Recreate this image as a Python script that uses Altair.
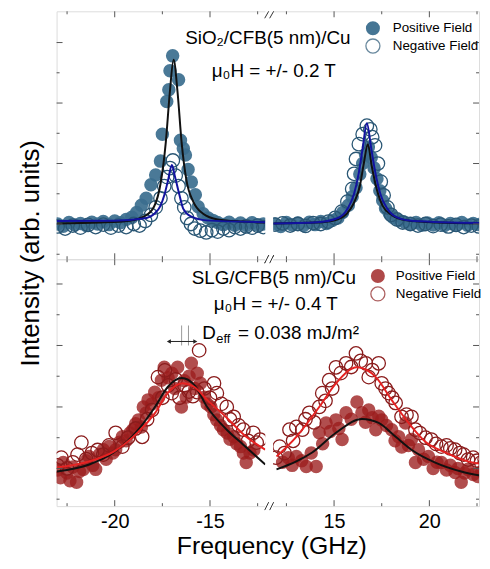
import altair as alt
import pandas as pd

FONT = "Liberation Sans"

# ---------------- broken x axis definition (GHz) ----------------
BREAK_LEFT = -12.1      # end of the negative-frequency segment
BREAK_RIGHT = 11.8      # start of the positive-frequency segment
GAP = 0.41              # gap between segments, in axis units
SHIFT = BREAK_RIGHT - (BREAK_LEFT + GAP)
PXU = 433 / 22.53       # pixels per GHz
X_MIN = -23.05
W = 426
X_MAX = X_MIN + W / PXU
H_TOP = 250
H_BOT = 249

x_major_ghz = [-20, -15, 15, 20]
x_minor_ghz = [-22.5, -17.5, -12.5, 12.5, 17.5, 22.5]
y_major = [1, 3, 5, 7]
y_minor = [0, 2, 4, 6]

# ---------------- top panel: SiO2/CFB(5 nm)/Cu ----------------
top_pos_f = [-23.0, -22.7, -22.4, -22.1, -21.8, -21.5, -21.2, -20.9, -20.6, -20.3, -20.0, -19.7, -19.4, -19.1,
             -18.85, -18.6, -18.35, -18.1, -17.85, -17.6, -17.5, -17.27, -17.16, -17.1, -16.96, -16.65, -16.55,
             -16.4, -16.29, -16.15, -15.98, -15.77, -15.62, -15.36, -15.1, -14.85, -14.6, -14.3, -14.0, -13.7,
             -13.4, -13.1, -12.8, -12.5, -12.2,
             11.9, 12.2, 12.5, 12.8, 13.1, 13.4, 13.7, 14.0, 14.3, 14.6, 14.9, 15.2, 15.45, 15.75, 15.95, 16.15,
             16.35, 16.5, 16.65, 16.8, 16.95, 17.1, 17.25, 17.4, 17.55, 17.7, 17.9, 18.1, 18.4, 18.7, 19.0, 19.3,
             19.6, 19.9, 20.2, 20.5, 20.8, 21.1, 21.4, 21.7, 22.0, 22.3, 22.6, 22.9]
top_pos_v = [1.00, 0.93, 1.05, 0.97, 1.02, 0.95, 1.06, 1.00, 1.08, 0.98, 1.10, 1.04, 1.15, 1.22,
             1.38, 1.62, 1.85, 2.30, 2.62, 3.08, 3.97, 5.05, 5.44, 6.07, 6.56, 5.77, 3.77,
             3.50, 3.28, 2.80, 2.39, 1.97, 1.57, 1.34, 1.20, 1.12, 1.05, 0.98, 1.06, 0.96,
             1.03, 0.95, 1.04, 0.97, 1.00,
             1.00, 0.92, 1.05, 0.97, 1.03, 0.95, 1.06, 0.98, 1.08, 1.02, 1.12, 1.20, 1.38, 1.62, 1.90, 2.20,
             2.65, 3.00, 3.30, 3.55, 3.20, 2.85, 2.50, 2.10, 1.78, 1.52, 1.35, 1.22, 1.12, 1.06, 1.00, 1.05,
             0.96, 1.03, 0.97, 1.04, 0.95, 1.02, 0.97, 1.05, 0.96, 1.02, 0.98, 1.00]
top_neg_f = [-23.0, -22.6, -22.2, -21.8, -21.4, -21.0, -20.6, -20.2, -19.8, -19.4, -19.0, -18.7, -18.4, -18.1,
             -17.85, -17.6, -17.4, -17.25, -17.1, -16.95, -16.8, -16.65, -16.5, -16.35, -16.2, -16.0, -15.8,
             -15.5, -15.2, -14.9, -14.6, -14.3, -14.0, -13.7, -13.4, -13.1, -12.8, -12.5, -12.2,
             11.9, 12.3, 12.7, 13.1, 13.5, 13.9, 14.3, 14.7, 15.05, 15.4, 15.7, 15.95, 16.05, 16.15, 16.3,
             16.5, 16.72, 16.9, 17.0, 17.15, 17.3, 17.45, 17.6, 17.8, 18.0, 18.3, 18.6, 19.0, 19.4, 19.8,
             20.2, 20.6, 21.0, 21.4, 21.8, 22.2, 22.6, 22.95]
top_neg_v = [0.92, 0.85, 0.95, 0.88, 0.97, 0.90, 0.98, 0.88, 0.95, 0.90, 1.00, 0.95, 1.10, 1.30,
             1.55, 1.85, 2.25, 2.55, 2.85, 3.10, 2.60, 2.25, 1.85, 1.55, 1.20, 1.00, 0.85,
             0.78, 0.72, 0.80, 0.75, 0.85, 0.80, 0.90, 0.85, 0.92, 0.88, 0.95, 0.90,
             0.98, 1.02, 0.95, 1.00, 0.94, 1.03, 1.00, 1.08, 1.20, 1.41, 1.74, 2.16, 2.66, 3.15, 3.64,
             3.97, 4.25, 4.13, 3.87, 3.60, 3.00, 2.40, 1.95, 1.55, 1.30, 1.15, 1.05, 1.00, 0.95, 1.00,
             0.93, 0.98, 0.92, 0.97, 0.90, 0.95, 0.92, 0.96]
top_fitp_f = [-23.04, -20.77, -19.23, -18.45, -17.94, -17.58, -17.32, -17.11, -16.91, -16.70, -16.49, -16.24,
              -15.88, -15.36, -14.59, -13.30, -12.11,
              11.82, 14.11, 15.16, 15.68, 16.04, 16.35, 16.56, 16.77, 16.98, 17.24, 17.55, 18.02, 18.8, 20.36, 22.97]
top_fitp_v = [1.02, 1.05, 1.11, 1.25, 1.57, 2.39, 3.70, 5.34, 6.43, 5.34, 3.70, 2.46,
              1.74, 1.34, 1.15, 1.08, 1.05,
              1.02, 1.05, 1.15, 1.35, 1.70, 2.25, 3.00, 3.64, 2.90, 2.15, 1.60, 1.30, 1.12, 1.05, 1.02]
top_fitn_f = [-23.04, -20.0, -18.5, -17.9, -17.6, -17.4, -17.2, -17.0, -16.85, -16.6, -16.4, -16.0, -15.2, -12.1,
              11.82, 14.1, 15.2, 15.7, 16.05, 16.3, 16.5, 16.72, 16.95, 17.15, 17.45, 17.8, 18.3, 19.2, 22.97]
top_fitn_v = [1.10, 1.11, 1.18, 1.35, 1.60, 1.95, 2.45, 2.95, 2.60, 1.95, 1.50, 1.25, 1.12, 1.06,
              1.02, 1.06, 1.20, 1.50, 2.00, 2.70, 3.50, 4.33, 3.50, 2.75, 1.95, 1.50, 1.22, 1.10, 1.03]

# ---------------- bottom panel: SLG/CFB(5 nm)/Cu ----------------
bot_pos_f = [-23.0, -22.85, -22.7, -22.5, -22.35, -22.2, -22.0, -21.85, -21.65, -21.5, -21.35, -21.15, -21.0,
             -20.8, -20.6, -20.45, -20.3, -20.1, -19.95, -19.75, -19.6, -19.4, -19.2, -19.05, -18.9, -18.75,
             -18.6, -18.5, -18.35, -18.25, -18.05, -17.9, -17.7, -17.55, -17.4, -17.2, -17.0, -16.85, -16.7,
             -16.5, -16.35, -16.25, -16.1, -15.98, -15.8, -15.67, -15.5, -15.3, -15.15, -14.95, -14.8, -14.65,
             -14.45, -14.3, -14.1, -13.95, -13.75, -13.6, -13.4, -13.25, -13.1, -12.9, -12.7,
             12.3, 12.6, 12.8, 13.02, 13.3, 13.54, 13.8, 14.06, 14.22, 14.4, 14.58, 14.8, 15.1, 15.25, 15.42,
             15.63, 15.9, 16.2, 16.46, 16.65, 16.82, 17.0, 17.19, 17.35, 17.5, 17.75, 18.02, 18.2, 18.39, 18.55,
             18.75, 18.9, 19.06, 19.27, 19.43, 19.7, 19.95, 20.2, 20.4, 20.63, 20.9, 21.1, 21.35, 21.5, 21.67,
             21.85, 22.03, 22.3, 22.55, 22.75, 22.92]
bot_pos_v = [0.95, 0.70, 1.19, 0.85, 0.60, 1.05, 0.55, 0.90, 0.97, 1.25, 1.39, 1.10, 0.97,
             1.45, 1.61, 1.30, 1.71, 1.50, 1.61, 1.85, 2.03, 1.90, 2.15, 2.26, 2.45, 2.58,
             2.35, 3.00, 2.80, 3.23, 3.10, 3.48, 3.30, 3.87, 4.29, 3.95, 4.10, 3.60, 4.29,
             3.00, 3.85, 3.32, 4.00, 4.42, 3.60, 4.10, 3.77, 3.32, 3.10, 3.00, 2.75, 2.58,
             2.40, 2.26, 2.15, 1.95, 2.03, 1.80, 1.71, 1.50, 1.19, 1.50, 1.60,
             1.20, 1.35, 1.10, 1.39, 1.25, 1.06, 1.50, 1.06, 2.16, 1.80, 2.48, 2.20, 2.58, 2.30, 1.94,
             2.81, 2.60, 3.16, 2.81, 2.50, 2.90, 2.65, 2.26, 2.70, 2.58, 2.40, 2.26, 1.90, 2.03, 1.70,
             2.48, 1.75, 1.94, 1.19, 1.61, 1.30, 1.39, 1.00, 1.20, 1.19, 0.95, 1.10, 0.87, 1.00, 0.55,
             0.85, 0.97, 0.80, 0.74, 0.90, 1.06]
bot_neg_f = [-23.0, -22.8, -22.5, -22.2, -21.95, -21.75, -21.5, -21.2, -20.9, -20.6, -20.3, -19.95, -19.6,
             -19.3, -18.9, -18.56, -18.3, -18.04, -17.73, -17.5, -17.37, -17.2, -17.01, -16.8, -16.6, -16.34,
             -16.1, -15.9, -15.67, -15.57, -15.3, -15.0, -14.79, -14.64, -14.4, -14.12, -13.95, -13.76, -13.5,
             -13.25, -13.0, -12.73, -12.55, -12.37,
             11.95, 12.14, 12.4, 12.66, 12.85, 13.02, 13.33, 13.5, 13.7, 13.95, 14.22, 14.38, 14.55, 14.74,
             14.9, 15.1, 15.35, 15.63, 15.9, 16.15, 16.4, 16.67, 16.82, 17.0, 17.34, 17.5, 17.7, 17.86, 18.05,
             18.23, 18.54, 18.8, 19.06, 19.27, 19.5, 19.8, 20.1, 20.35, 20.63, 20.9, 21.1, 21.35, 21.6, 21.8,
             22.03, 22.3, 22.5, 22.71, 22.9]
bot_neg_v = [1.10, 1.35, 1.00, 1.20, 1.45, 1.84, 1.30, 1.50, 1.60, 1.45, 1.75, 2.16, 1.71,
             2.00, 2.30, 2.03, 2.60, 2.90, 3.97, 3.30, 4.19, 3.70, 3.45, 3.90, 3.30, 3.71,
             3.50, 3.35, 3.48, 4.84, 3.60, 3.30, 3.77, 3.45, 3.10, 3.00, 2.60, 2.68, 2.40,
             2.26, 1.90, 2.16, 1.84, 1.94,
             1.35, 1.71, 1.50, 2.26, 1.90, 2.35, 2.26, 2.60, 2.81, 2.50, 3.00, 3.45, 3.20, 3.87,
             3.60, 4.29, 4.10, 4.42, 4.30, 4.74, 4.50, 4.42, 3.97, 4.20, 4.42, 3.77, 3.60, 3.45, 3.30,
             3.13, 2.68, 2.75, 2.68, 2.26, 2.15, 2.00, 1.94, 1.80, 1.71, 1.75, 1.65, 1.61, 1.50, 1.45,
             1.29, 1.35, 1.25, 1.19, 1.30]
bot_fitp_f = [-23.04, -21.34, -20.05, -18.76, -17.89, -17.22, -16.49, -15.82, -15.15, -14.12, -13.25, -12.1,
              11.98, 13.02, 13.85, 15.10, 16.46, 17.34, 18.23, 19.06, 20.31, 21.67, 22.92]
bot_fitp_v = [0.90, 1.13, 1.52, 2.26, 3.00, 3.65, 3.94, 3.71, 3.00, 2.26, 1.77, 1.13,
              0.97, 1.23, 1.52, 2.16, 2.61, 2.48, 2.03, 1.61, 1.19, 0.90, 0.74]
bot_fitn_f = [-23.04, -21.34, -20.05, -18.76, -17.89, -17.22, -16.44, -15.82, -15.15, -14.12, -13.1, -12.1,
              11.98, 13.02, 14.22, 15.10, 16.20, 17.19, 18.02, 18.91, 19.79, 20.83, 22.03, 22.92]
bot_fitn_v = [1.03, 1.23, 1.55, 2.19, 2.80, 3.45, 3.77, 3.65, 3.23, 2.65, 2.03, 1.61,
              1.39, 2.03, 3.00, 3.77, 4.29, 3.97, 3.23, 2.48, 1.87, 1.52, 1.23, 1.13]

# D_eff shift marker (GHz, intensity units of bottom panel)
deff_lines_f = [-16.49, -16.13]
deff_lines_lo = [5.0, 5.0]
deff_lines_hi = [5.65, 5.65]
deff_arrow_f = [-17.16, -15.77]
deff_arrow_v = [5.13, 5.13]

legend_labels = ["Positive Field", "Negative Field"]

TOP_POS, TOP_NEG, BLUE_FIT = "#3b6e8e", "#2a5775", "#1212a0"
BOT_POS, BOT_NEG, RED_FIT = "#9b1c1c", "#8a1c1c", "#e62222"
BLACK = "#111111"
AXC = "#555555"
MSIZE = 185

XP = f"datum.f < 0 ? datum.f : datum.f - {SHIFT}"
_v = f"(datum.value > {BREAK_LEFT + GAP / 2} ? round(datum.value + {SHIFT}) : round(datum.value))"
label_expr = f"{_v} + ''"
x_label_vals = [v if v < 0 else round(v - SHIFT, 4) for v in x_major_ghz]
GAP_PX = (BREAK_LEFT + GAP / 2 - X_MIN) * PXU


def df(f, v):
    return pd.DataFrame({"f": f, "v": v})


def text_layer(txt, x, y, size, align="left", angle=0, color="black"):
    kw = dict(text=txt, font=FONT, fontSize=size, align=align, baseline="middle", color=color)
    if angle:
        kw["angle"] = angle
    return alt.Chart(pd.DataFrame({"t": [txt]})).mark_text(**kw).encode(
        x=alt.value(x), y=alt.value(y))


def tick_layers(xs, ys, H):
    """Inward ticks on all four sides, drawn through the shared scales."""
    out = []
    for vals, ln in ((x_major_ghz, 6), (x_minor_ghz, 3)):
        d = pd.DataFrame({"f": vals})
        for y0, y1 in ((0, ln), (H - ln, H)):
            out.append(alt.Chart(d).transform_calculate(xp=XP).transform_filter(
                f"datum.xp <= {X_MAX}").mark_rule(color=AXC, strokeWidth=1).encode(
                x=alt.X("xp:Q", scale=xs, axis=None), y=alt.value(y0), y2=alt.value(y1)))
    for vals, ln in ((y_major, 6), (y_minor, 3)):
        d = pd.DataFrame({"t": vals})
        for x0, x1 in ((0, ln), (W - ln, W)):
            out.append(alt.Chart(d).mark_rule(color=AXC, strokeWidth=1).encode(
                y=alt.Y("t:Q", scale=ys, axis=None), x=alt.value(x0), x2=alt.value(x1)))
    return out


def break_marks(H, top_edge):
    layers = []
    spans = [(0, 7) if top_edge else (-4, 4), (H - 4, H + 4)]
    for y0, y1 in spans:
        for dx in (-2.5, 2.5):
            layers.append(alt.Chart(pd.DataFrame({"t": [0]})).mark_rule(color="#333", strokeWidth=1).encode(
                x=alt.value(GAP_PX + dx - 2), x2=alt.value(GAP_PX + dx + 2),
                y=alt.value(y1), y2=alt.value(y0)))
    return layers


def panel(pos, neg, fitp, fitn, ydom, H, show_labels, pos_color, pos_opacity, neg_color, fitn_color, extras,
          top_edge):
    xs = alt.Scale(domain=[X_MIN, X_MAX], nice=False, zero=False)
    ys = alt.Scale(domain=ydom, nice=False, zero=False)
    seg = "datum.f < 0 ? 'L' : 'R'"
    if show_labels:
        xaxis = alt.Axis(orient="bottom", values=x_label_vals, labelExpr=label_expr, domain=False, grid=False,
                         ticks=False, tickSize=0, labelFont=FONT, labelFontSize=20, labelColor="black",
                         labelPadding=6, title=None)
    else:
        xaxis = None
    p_pos = alt.Chart(pos).transform_calculate(xp=XP).mark_circle(
        size=MSIZE, color=pos_color, opacity=pos_opacity, clip=True).encode(
        x=alt.X("xp:Q", scale=xs, axis=xaxis),
        y=alt.Y("v:Q", scale=ys, axis=None))
    p_neg = alt.Chart(neg).transform_calculate(xp=XP).mark_point(
        shape="circle", filled=False, size=MSIZE, color=neg_color, strokeWidth=1.3, opacity=1, clip=True).encode(
        x=alt.X("xp:Q", scale=xs, axis=None),
        y=alt.Y("v:Q", scale=ys, axis=None))
    l_pos = alt.Chart(fitp).transform_calculate(xp=XP, seg=seg).mark_line(
        color=BLACK, strokeWidth=2, interpolate="monotone", clip=True).encode(
        x=alt.X("xp:Q", scale=xs, axis=None), y=alt.Y("v:Q", scale=ys, axis=None), detail="seg:N")
    l_neg = alt.Chart(fitn).transform_calculate(xp=XP, seg=seg).mark_line(
        color=fitn_color, strokeWidth=2, interpolate="monotone", clip=True).encode(
        x=alt.X("xp:Q", scale=xs, axis=None), y=alt.Y("v:Q", scale=ys, axis=None), detail="seg:N")
    gap = alt.Chart(pd.DataFrame({"a": [BREAK_LEFT], "b": [BREAK_LEFT + GAP]})).mark_rect(
        color="white").encode(x=alt.X("a:Q", scale=xs, axis=None), x2="b:Q",
                              y=alt.value(0 if top_edge else -3), y2=alt.value(H + 3))
    layers = ([p_pos, p_neg, l_pos, l_neg] + tick_layers(xs, ys, H) + [gap] + break_marks(H, top_edge)
              + extras(xs, ys))
    return alt.layer(*layers).resolve_axis(x="independent", y="independent").properties(width=W, height=H)


def legend(y1, y2, xc, xt, pos_color, pos_opacity, neg_color):
    one = pd.DataFrame({"t": [0]})
    return [
        alt.Chart(one).mark_circle(size=200, color=pos_color, opacity=pos_opacity).encode(
            x=alt.value(xc), y=alt.value(y1)),
        alt.Chart(one).mark_point(shape="circle", filled=False, size=200, color=neg_color,
                                  strokeWidth=1.3).encode(x=alt.value(xc), y=alt.value(y2)),
        text_layer(legend_labels[0], xt, y1, 13.5),
        text_layer(legend_labels[1], xt, y2, 13.5),
    ]


def top_extras(xs, ys):
    return [
        text_layer("SiO\u2082/CFB(5 nm)/Cu", 213, 27, 19, align="center"),
        text_layer("\u03bc\u2080H = +/- 0.2 T", 219, 60, 19, align="center"),
        text_layer("Intensity (arb. units)", -26, 244, 26, align="center", angle=270),
    ] + legend(17, 35, 319, 339, TOP_POS, 0.95, TOP_NEG)


def bot_extras(xs, ys):
    lines = pd.DataFrame({"f": deff_lines_f, "lo": deff_lines_lo, "hi": deff_lines_hi})
    arrow = pd.DataFrame({"f": deff_arrow_f, "v": deff_arrow_v, "s": ["triangle-left", "triangle-right"]})
    return [
        alt.Chart(lines).mark_rule(color="#999999", strokeWidth=1).encode(
            x=alt.X("f:Q", scale=xs, axis=None), y=alt.Y("lo:Q", scale=ys, axis=None), y2="hi:Q"),
        alt.Chart(arrow).mark_line(color="#222222", strokeWidth=1).encode(
            x=alt.X("f:Q", scale=xs, axis=None), y=alt.Y("v:Q", scale=ys, axis=None)),
        alt.Chart(arrow).mark_point(filled=True, size=22, color="#222222", opacity=1).encode(
            x=alt.X("f:Q", scale=xs, axis=None), y=alt.Y("v:Q", scale=ys, axis=None),
            shape=alt.Shape("s:N", scale=None)),
        text_layer("SLG/CFB(5 nm)/Cu", 219, 19, 19, align="center"),
        text_layer("\u03bc\u2080H = +/- 0.4 T", 221, 45, 19, align="center"),
        text_layer("D", 147, 74, 19),
        text_layer("eff", 161, 80, 13),
        text_layer("= 0.038 mJ/m\u00b2", 183, 74, 19),
        text_layer("Frequency (GHz)", 217, H_BOT + 40, 25, align="center"),
    ] + legend(17, 35, 324, 342, BOT_POS, 0.8, BOT_NEG)


top = panel(df(top_pos_f, top_pos_v), df(top_neg_f, top_neg_v), df(top_fitp_f, top_fitp_v),
            df(top_fitn_f, top_fitn_v), [-0.164, 8.033], H_TOP, False, TOP_POS, 0.92, TOP_NEG, BLUE_FIT,
            top_extras, True)
bottom = panel(df(bot_pos_f, bot_pos_v), df(bot_neg_f, bot_neg_v), df(bot_fitp_f, bot_fitp_v),
               df(bot_fitn_f, bot_fitn_v), [-0.226, 7.806], H_BOT, True, BOT_POS, 0.78, BOT_NEG, RED_FIT,
               bot_extras, False)

chart = alt.vconcat(top, bottom, spacing=0, bounds="flush").properties(
    padding={"left": 9, "top": 0, "right": 0, "bottom": 0}
).configure_view(stroke=AXC, strokeWidth=1).configure(background="white")

chart.save("out.html", embed_options={"renderer": "svg", "actions": False})
